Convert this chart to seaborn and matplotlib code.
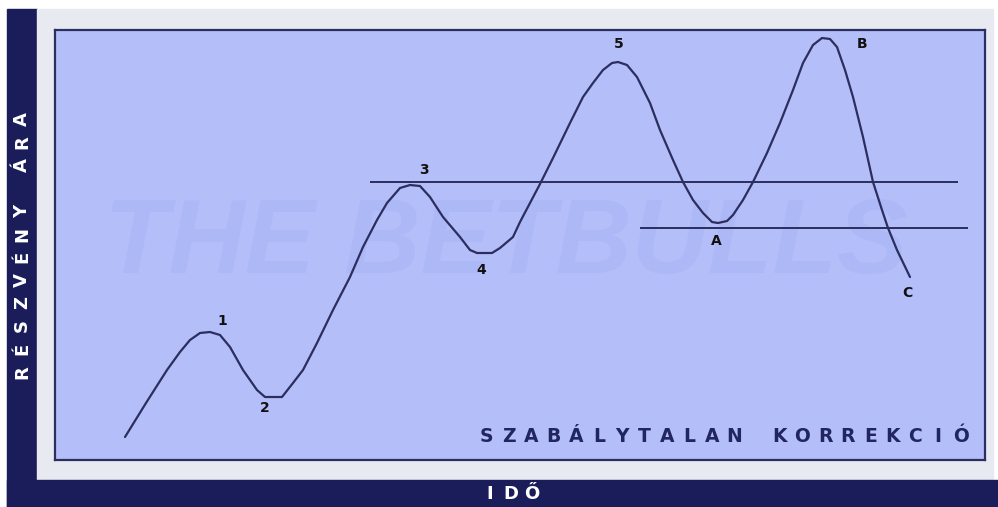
import numpy as np
import pandas as pd
import seaborn as sns
import matplotlib.pyplot as plt
from matplotlib.patches import Rectangle

# =========================
# DATA
# =========================
time = [70, 91, 112, 125, 135, 145, 155, 165, 175, 188, 202, 210, 227, 238,
        248, 262, 278, 295, 308, 322, 332, 345, 355, 365, 375, 388, 405, 415,
        422, 437, 445, 458, 465, 485, 498, 515, 528, 538, 548, 557, 563, 572,
        582, 595, 605, 618, 628, 638, 648, 657, 663, 672, 678, 688, 698, 712,
        725, 738, 748, 758, 767, 775, 782, 790, 798, 808, 818, 827, 833, 842, 855]
price = [23, 57, 90, 108, 120, 127, 128, 125, 113, 90, 70, 63, 63, 77,
         90, 117, 150, 183, 213, 240, 257, 272, 275, 274, 263, 243, 223, 210,
         207, 207, 212, 223, 238, 276, 302, 337, 363, 377, 390, 397, 398, 395,
         383, 357, 330, 300, 278, 260, 247, 238, 237, 239, 245, 260, 278, 307,
         337, 370, 397, 415, 422, 421, 413, 390, 363, 323, 278, 250, 232, 210, 183]

# support / resistance lines
level_price = [278, 232]
level_start = [315, 585]
level_end = [903, 913]

# wave labels
wave_labels = ["1", "2", "3", "4", "5", "A", "B", "C"]
label_time = [167, 210, 369, 426, 564, 661, 807, 852]
label_price = [139, 52, 290, 190, 416, 219, 416, 167]

y_title = "RÉSZVÉNY ÁRA"
x_title = "IDŐ"
corner_title = "SZABÁLYTALAN KORREKCIÓ"
watermark = "THE BETBULLS"

# =========================
# COLOURS
# =========================
NAVY = "#1b1d5b"
FRAME = "#e7ebf1"
PANEL = "#b4bef9"
LINE = "#2b2e5e"

sns.set_theme(style="white")
plt.rcParams['font.family'] = ['DejaVu Sans']

W, H = 998, 507
fig = plt.figure(figsize=(W / 100, H / 100), dpi=100, facecolor="white")


def px_rect(x0, y0, x1, y1, color):
    # rectangle given in pixel coords (top-left origin)
    fig.patches.append(Rectangle((x0 / W, 1 - y1 / H), (x1 - x0) / W, (y1 - y0) / H,
                                 transform=fig.transFigure, color=color, zorder=-10))


def spaced(text, x0, y0, dx, dy, rot=0, **kw):
    # place letters one by one with a fixed pitch (pixel coords)
    for i, ch in enumerate(text):
        fig.text((x0 + i * dx) / W, 1 - (y0 + i * dy) / H, ch, rotation=rot,
                 ha="center", va="center", **kw)


px_rect(7, 9, 37, 507, NAVY)
px_rect(37, 9, 993, 480, FRAME)
px_rect(7, 480, 998, 507, NAVY)

ax = fig.add_axes([55 / W, (H - 460) / H, 930 / W, 430 / H])
ax.set_facecolor(PANEL)
ax.set_xlim(0, 930)
ax.set_ylim(0, 430)

# watermark
ax.text(0.485, 0.5, watermark, transform=ax.transAxes, ha="center", va="center",
        fontsize=76, fontweight="bold", style="italic", family="Liberation Sans",
        color="#adb8f7", zorder=0)

df = pd.DataFrame({"time": time, "price": price})
sns.lineplot(data=df, x="time", y="price", sort=False, estimator=None,
             color=LINE, linewidth=1.6, ax=ax, zorder=3,
             solid_joinstyle="round", solid_capstyle="round")

ax.hlines(level_price, level_start, level_end, color=LINE, linewidth=1.4, zorder=2)

for lab, t, p in zip(wave_labels, label_time, label_price):
    ax.text(t, p, lab, ha="center", va="center", fontsize=10, fontweight="heavy",
            color="#111111", zorder=4)

ax.set_xticks([])
ax.set_yticks([])
ax.set_xlabel("")
ax.set_ylabel("")
for s in ax.spines.values():
    s.set_color(LINE)
    s.set_linewidth(1.6)

# titles
spaced(corner_title, 486, 437, 22.6, 0, fontsize=13.5, fontweight="heavy", color="#22265f")
spaced(y_title, 22, 372, 0, -23, rot=90, fontsize=13, fontweight="heavy", color="white")
spaced(x_title, 490, 494, 21, 0, fontsize=13, fontweight="heavy", color="white")

fig.savefig("out.png", dpi=100, facecolor="white")
